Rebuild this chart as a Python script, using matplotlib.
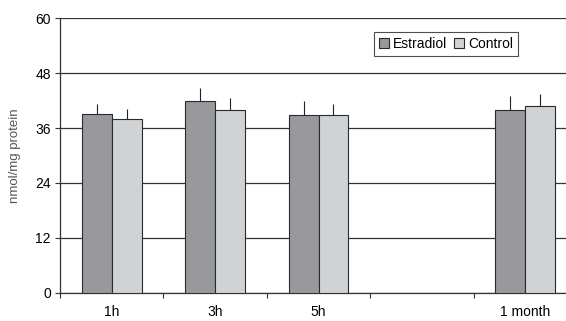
import numpy as np
import matplotlib
matplotlib.use("Agg")
import matplotlib.pyplot as plt
from matplotlib.ticker import FixedLocator

plt.rcParams['font.family'] = ['Liberation Sans', 'DejaVu Sans']

categories = ['1h', '3h', '5h', '', '1 month']
estradiol = [39.0, 41.9, 38.9, np.nan, 40.0]
estradiol_err = [2.3, 2.8, 3.0, np.nan, 3.1]
control = [38.0, 40.0, 38.9, np.nan, 40.9]
control_err = [2.2, 2.5, 2.3, np.nan, 2.5]
yticks = [0, 12, 24, 36, 48, 60]

fig = plt.figure(figsize=(5.66, 3.21), dpi=100)
ax = fig.add_axes([60/566, 28.3/321, 517/566, 274.4/321])

x = np.arange(len(categories))
w = 0.29
ax.bar(x - w/2, estradiol, w, color='#98989d', edgecolor='#2a2a2a', linewidth=0.8, zorder=3, label='Estradiol')
ax.bar(x + w/2, control, w, color='#d0d3d6', edgecolor='#2a2a2a', linewidth=0.8, zorder=3, label='Control')
ax.errorbar(x - w/2, estradiol, yerr=[np.zeros(len(x)), estradiol_err], fmt='none', ecolor='#222222', elinewidth=0.8, capsize=0, zorder=2)
ax.errorbar(x + w/2, control, yerr=[np.zeros(len(x)), control_err], fmt='none', ecolor='#222222', elinewidth=0.8, capsize=0, zorder=2)

ax.set_xlim(-0.5, len(categories) - 0.5)
ax.set_ylim(0, 60)
ax.set_yticks(yticks)
ax.yaxis.grid(True, color='#333333', linewidth=0.9, zorder=0)
ax.set_axisbelow(True)

ax.set_xticks(x)
ax.set_xticklabels(categories, fontsize=10)
ax.xaxis.set_minor_locator(FixedLocator(np.arange(len(categories) + 1) - 0.5))
ax.tick_params(axis='x', which='major', length=0, pad=9)
ax.tick_params(axis='x', which='minor', length=3.5, width=0.8, color='#333333', direction='out')
ax.tick_params(axis='y', length=3.6, width=0.8, color='#333333', labelsize=10, pad=3)

for s in ['top', 'right']:
    ax.spines[s].set_visible(False)
for s in ['left', 'bottom']:
    ax.spines[s].set_color('#333333')
    ax.spines[s].set_linewidth(0.9)

ax.set_ylabel('nmol/mg protein', fontsize=9.5, color='#555555', labelpad=10)

leg = fig.legend(loc='upper left', bbox_to_anchor=(374/566, 1 - 32/321), ncol=2,
                 fontsize=10, frameon=True, fancybox=False, borderpad=0.35, borderaxespad=0,
                 handlelength=0.7, handleheight=0.7, handletextpad=0.3, columnspacing=0.5)
leg.get_frame().set_edgecolor('#222222')
leg.get_frame().set_linewidth(0.8)

fig.savefig('out.png', dpi=100)
